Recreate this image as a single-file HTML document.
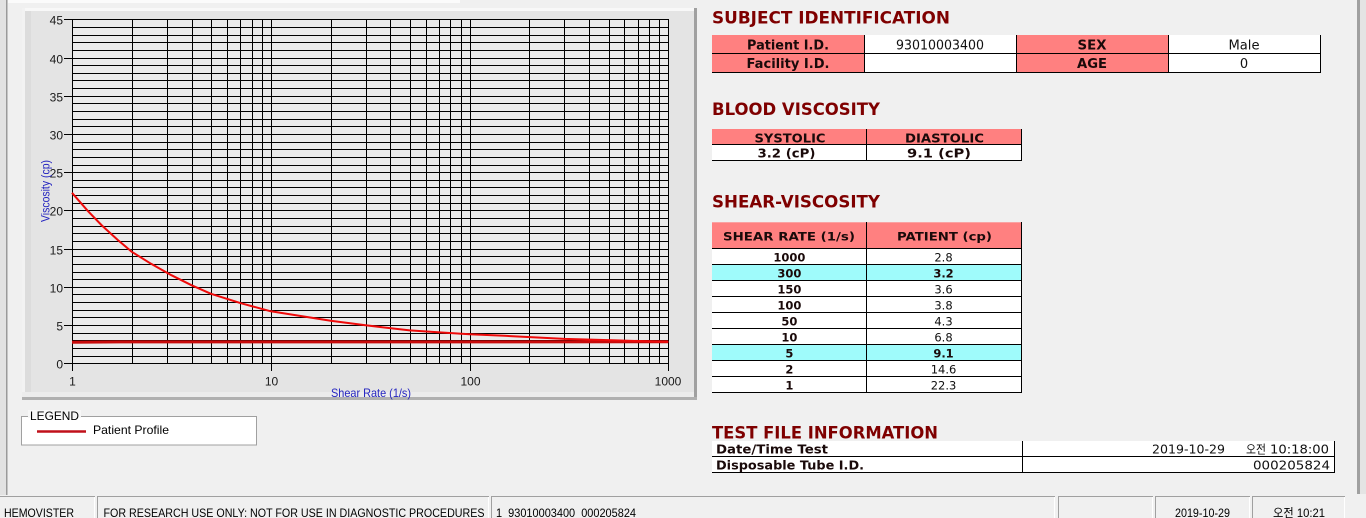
<!DOCTYPE html>
<html><head><meta charset="utf-8"><style>
html,body{margin:0;padding:0;background:#f0f0f0;}
svg{display:block;}
.h{font-family:"DejaVu Sans","Liberation Sans",sans-serif;font-weight:bold;fill:#7f0000;font-size:16.5px;}
.tb{font-family:"DejaVu Sans","Liberation Sans",sans-serif;font-weight:bold;fill:#1a0a0a;}
.tr{font-family:"DejaVu Sans","Liberation Sans","Noto Sans CJK KR",sans-serif;fill:#111;}
.ax{font-family:"Liberation Sans",sans-serif;font-size:12px;fill:#1a1a1a;}
.at{font-family:"Liberation Sans",sans-serif;font-size:12px;fill:#2424c0;}
.sb{font-family:"Liberation Sans","Noto Sans CJK KR",sans-serif;font-size:12px;fill:#000;}
</style></head><body>
<svg width="1366" height="518" viewBox="0 0 1366 518" xmlns="http://www.w3.org/2000/svg">
<rect x="0" y="0" width="1366" height="518" fill="#f0f0f0"/>
<!-- top strip and side borders -->
<rect x="8" y="0" width="452" height="3" fill="#fbfbfb"/>
<rect x="0" y="0" width="6" height="495" fill="#e2e2e2"/>
<rect x="6" y="0" width="1.5" height="495" fill="#9a9a9a"/>
<rect x="1357" y="0" width="3" height="494" fill="#a0a0a0"/>
<rect x="1360" y="0" width="6" height="494" fill="#e4e4e4"/>

<!-- chart panel -->
<rect x="22" y="8" width="675" height="392" fill="#e4e4e4"/>
<rect x="22" y="8" width="675" height="3" fill="#f8f8f8"/>
<rect x="22" y="8" width="3" height="392" fill="#f2f2f2"/>
<rect x="25" y="11" width="6" height="386" fill="#dcdcdc"/>
<rect x="22" y="392" width="673" height="5" fill="#ececec"/>
<rect x="694" y="8" width="3" height="392" fill="#a0a0a0"/>
<rect x="22" y="397" width="675" height="3" fill="#b0b0b0"/>
<rect x="72" y="19" width="596" height="344" fill="#ebebeb"/>

<!-- grid -->
<path fill="none" stroke="#000" stroke-width="1" d="
M72 19.5H668M72 27.5H668M72 35.5H668M72 42.5H668M72 50.5H668M72 58.5H668M72 65.5H668M72 73.5H668M72 80.5H668M72 88.5H668
M72 96.5H668M72 103.5H668M72 111.5H668M72 119.5H668M72 126.5H668M72 134.5H668M72 142.5H668M72 149.5H668M72 157.5H668M72 165.5H668
M72 172.5H668M72 180.5H668M72 187.5H668M72 195.5H668M72 203.5H668M72 210.5H668M72 218.5H668M72 226.5H668M72 233.5H668M72 241.5H668
M72 249.5H668M72 256.5H668M72 264.5H668M72 272.5H668M72 279.5H668M72 287.5H668M72 294.5H668M72 302.5H668M72 310.5H668M72 317.5H668
M72 325.5H668M72 333.5H668M72 340.5H668M72 348.5H668M72 356.5H668M72 363.5H668
M72.5 19V364M132.5 19V364M167.5 19V364M192.5 19V364M211.5 19V364M227.5 19V364M240.5 19V364M252.5 19V364M262.5 19V364
M271.5 19V364M331.5 19V364M366.5 19V364M390.5 19V364M410.5 19V364M426.5 19V364M439.5 19V364M450.5 19V364M461.5 19V364
M470.5 19V364M529.5 19V364M564.5 19V364M589.5 19V364M609.5 19V364M624.5 19V364M638.5 19V364M649.5 19V364M659.5 19V364M668.5 19V364
M64 19.5H72M64 58.5H72M64 96.5H72M64 134.5H72M64 172.5H72M64 210.5H72M64 249.5H72M64 287.5H72M64 325.5H72M64 363.5H72
M72.5 363V371M271.5 363V371M470.5 363V371M668.5 363V371"/>

<!-- y labels -->
<g class="ax" text-anchor="end">
<text x="63" y="24.3">45</text>
<text x="63" y="63.3">40</text>
<text x="63" y="101.3">35</text>
<text x="63" y="139.3">30</text>
<text x="63" y="177.3">25</text>
<text x="63" y="215.3">20</text>
<text x="63" y="254.3">15</text>
<text x="63" y="292.3">10</text>
<text x="63" y="330.3">5</text>
<text x="63" y="368.3">0</text>
</g>
<g class="ax" text-anchor="middle">
<text x="72.5" y="385.5">1</text>
<text x="271.5" y="385.5">10</text>
<text x="470.5" y="385.5">100</text>
<text x="668" y="385.5">1000</text>
</g>
<text class="at" x="371" y="397" text-anchor="middle" textLength="80" lengthAdjust="spacingAndGlyphs">Shear Rate (1/s)</text>
<text class="at" transform="translate(49.5,191) rotate(-90)" text-anchor="middle" textLength="62" lengthAdjust="spacingAndGlyphs">Viscosity (cp)</text>

<!-- series -->
<path d="M72 342.3L120 341.9L668 341.8" fill="none" stroke="#c80a0a" stroke-width="3"/>
<polyline fill="none" stroke="#ee0a0a" stroke-width="2" stroke-linejoin="round" points="72,192.8 87.7,210.8 101.9,225.5 117.8,240 131.8,251.8 151.1,263.8 171.4,275.2 191.7,285.3 211,293.8 240.8,303.2 270.8,311.3 330.6,320.7 365.6,325.3 409.8,330.4 439.7,332.4 469.6,334.3 504.6,335.8 564.4,338.9 616.4,340.4 668.4,341.9"/>

<!-- legend -->
<rect x="21.5" y="416.5" width="235" height="28.5" fill="#ffffff" stroke="#a0a0a0" stroke-width="1"/>
<rect x="28" y="410" width="53" height="8" fill="#f7f7f7"/>
<text class="sb" x="30" y="420" textLength="49" lengthAdjust="spacingAndGlyphs">LEGEND</text>
<line x1="37" y1="431.5" x2="86" y2="431.5" stroke="#c0101a" stroke-width="2.5"/>
<text class="sb" x="93" y="434" textLength="76" lengthAdjust="spacingAndGlyphs">Patient Profile</text>

<!-- SUBJECT IDENTIFICATION -->
<text class="h" x="712" y="23.3" textLength="238" lengthAdjust="spacingAndGlyphs">SUBJECT IDENTIFICATION</text>
<rect x="712" y="35" width="152" height="37" fill="#ff8080"/>
<rect x="864" y="35" width="152" height="37" fill="#ffffff"/>
<rect x="1016" y="35" width="152" height="37" fill="#ff8080"/>
<rect x="1168" y="35" width="152" height="37" fill="#ffffff"/>
<path fill="none" stroke="#000" stroke-width="1" d="M712 53.5H1320M712 72.5H1321M864.5 35V72M1016.5 35V72M1168.5 35V72M1320.5 35V73"/>
<g text-anchor="middle">
<text class="tb" x="788" y="49.3" font-size="13" textLength="82" lengthAdjust="spacingAndGlyphs">Patient I.D.</text>
<text class="tr" x="940" y="49.3" font-size="13" textLength="88" lengthAdjust="spacingAndGlyphs">93010003400</text>
<text class="tb" x="1092" y="49.3" font-size="13" textLength="29" lengthAdjust="spacingAndGlyphs">SEX</text>
<text class="tr" x="1244" y="49.3" font-size="13" textLength="31" lengthAdjust="spacingAndGlyphs">Male</text>
<text class="tb" x="788" y="67.8" font-size="13" textLength="83" lengthAdjust="spacingAndGlyphs">Facility I.D.</text>
<text class="tb" x="1092" y="67.8" font-size="13" textLength="30" lengthAdjust="spacingAndGlyphs">AGE</text>
<text class="tr" x="1244" y="67.8" font-size="13">0</text>
</g>

<!-- BLOOD VISCOSITY -->
<text class="h" x="712" y="115" textLength="168" lengthAdjust="spacingAndGlyphs">BLOOD VISCOSITY</text>
<rect x="712" y="129" width="310" height="15.5" fill="#ff8080"/>
<rect x="712" y="144.5" width="310" height="16" fill="#ffffff"/>
<path fill="none" stroke="#000" stroke-width="1" d="M712 144.5H1022M712 160.5H1022M866.5 129V160M1021.5 129V161"/>
<g text-anchor="middle">
<text class="tb" x="790" y="142.7" font-size="12" textLength="71" lengthAdjust="spacingAndGlyphs">SYSTOLIC</text>
<text class="tb" x="944.5" y="142.7" font-size="12" textLength="79" lengthAdjust="spacingAndGlyphs">DIASTOLIC</text>
<text class="tb" x="786.5" y="157.5" font-size="12" textLength="58" lengthAdjust="spacingAndGlyphs">3.2 (cP)</text>
<text class="tb" x="939" y="157.5" font-size="12" textLength="64" lengthAdjust="spacingAndGlyphs">9.1 (cP)</text>
</g>

<!-- SHEAR-VISCOSITY -->
<text class="h" x="712" y="207.7" textLength="168" lengthAdjust="spacingAndGlyphs">SHEAR-VISCOSITY</text>
<rect x="712" y="222.3" width="310" height="26" fill="#ff8080"/>
<rect x="712" y="248.3" width="310" height="144" fill="#ffffff"/>
<rect x="712" y="264.3" width="310" height="16" fill="#9ffbfb"/>
<rect x="712" y="344.3" width="310" height="16" fill="#9ffbfb"/>
<path fill="none" stroke="#000" stroke-width="1" d="M712 248.5H1022M712 264.5H1022M712 280.5H1022M712 296.5H1022M712 312.5H1022M712 328.5H1022M712 344.5H1022M712 360.5H1022M712 376.5H1022M712 392.5H1022M866.5 222V392M1021.5 222V393"/>
<g text-anchor="middle" font-size="11.5">
<text class="tb" x="789" y="240.3" textLength="132" lengthAdjust="spacingAndGlyphs">SHEAR RATE (1/s)</text>
<text class="tb" x="944.5" y="240.3" textLength="95" lengthAdjust="spacingAndGlyphs">PATIENT (cp)</text>
<text class="tb" x="789.4" y="261.7">1000</text><text class="tr" x="943.5" y="261.7">2.8</text>
<text class="tb" x="789.4" y="277.7">300</text><text class="tb" x="943.5" y="277.7">3.2</text>
<text class="tb" x="789.4" y="293.7">150</text><text class="tr" x="943.5" y="293.7">3.6</text>
<text class="tb" x="789.4" y="309.7">100</text><text class="tr" x="943.5" y="309.7">3.8</text>
<text class="tb" x="789.4" y="325.7">50</text><text class="tr" x="943.5" y="325.7">4.3</text>
<text class="tb" x="789.4" y="341.7">10</text><text class="tr" x="943.5" y="341.7">6.8</text>
<text class="tb" x="789.4" y="357.7">5</text><text class="tb" x="943.5" y="357.7">9.1</text>
<text class="tb" x="789.4" y="373.7">2</text><text class="tr" x="943.5" y="373.7">14.6</text>
<text class="tb" x="789.4" y="389.7">1</text><text class="tr" x="943.5" y="389.7">22.3</text>
</g>

<!-- TEST FILE INFORMATION -->
<text class="h" x="712" y="438.3" textLength="226" lengthAdjust="spacingAndGlyphs">TEST FILE INFORMATION</text>
<rect x="712" y="441" width="623" height="31.5" fill="#ffffff"/>
<path fill="none" stroke="#000" stroke-width="1" d="M712 456.5H1335M712 472.5H1335M1022.5 441V472M1334.5 441V473"/>
<text class="tb" x="716" y="453.3" font-size="12.5" textLength="112" lengthAdjust="spacingAndGlyphs">Date/Time Test</text>
<text class="tb" x="716" y="469.3" font-size="12.5" textLength="148" lengthAdjust="spacingAndGlyphs">Disposable Tube I.D.</text>
<text class="tr" x="1152" y="453.3" font-size="12.5" textLength="73" lengthAdjust="spacingAndGlyphs">2019-10-29</text>
<text class="tr" x="1246" y="453.3" font-size="12" textLength="20" lengthAdjust="spacingAndGlyphs">오전</text>
<text class="tr" x="1270" y="453.3" font-size="12.5" textLength="59" lengthAdjust="spacingAndGlyphs">10:18:00</text>
<text class="tr" x="1253" y="469.3" font-size="12.5" textLength="77" lengthAdjust="spacingAndGlyphs">000205824</text>

<!-- status bar -->
<g fill="none" stroke-width="1">
<path stroke="#a0a0a0" d="M0 496.5H95M97 496.5H489M491 496.5H1055M1058 496.5H1153M1155 496.5H1250M1252 496.5H1345M97.5 496V518M491.5 496V518M1058.5 496V518M1155.5 496V518M1252.5 496V518"/>
<path stroke="#ffffff" d="M94.5 497V518M488.5 497V518M1054.5 497V518M1152.5 497V518M1249.5 497V518M1344.5 497V518"/>
</g>
<text class="sb" x="4" y="517" textLength="70" lengthAdjust="spacingAndGlyphs">HEMOVISTER</text>
<text class="sb" x="103.5" y="517" textLength="381" lengthAdjust="spacingAndGlyphs">FOR RESEARCH USE ONLY: NOT FOR USE IN DIAGNOSTIC PROCEDURES</text>
<text class="sb" x="496" y="517" textLength="140" lengthAdjust="spacingAndGlyphs" xml:space="preserve">1  93010003400  000205824</text>
<text class="sb" x="1175" y="517" textLength="55" lengthAdjust="spacingAndGlyphs">2019-10-29</text>
<text class="sb" x="1273" y="517" textLength="52" lengthAdjust="spacingAndGlyphs">오전 10:21</text>
</svg>
</body></html>
